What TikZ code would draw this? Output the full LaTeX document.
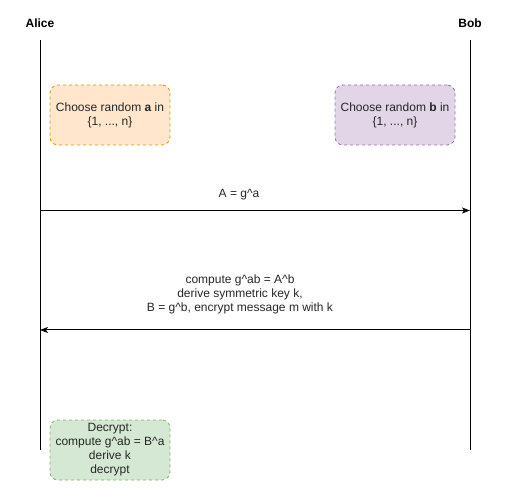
\documentclass[tikz,border=0pt]{standalone}
\usepackage{fontspec}
\setmainfont{Liberation Sans}
\usetikzlibrary{arrows.meta}
\definecolor{orfill}{HTML}{FFE6CC}\definecolor{ordraw}{HTML}{D79B00}
\definecolor{pufill}{HTML}{E1D5E7}\definecolor{pudraw}{HTML}{9673A6}
\definecolor{grfill}{HTML}{D5E8D4}\definecolor{grdraw}{HTML}{82B366}
\tikzset{
  actor/.style={font=\fontsize{9pt}{10.5pt}\selectfont\bfseries},
  notebox/.style={draw, dash pattern=on 2.25pt off 2.25pt, rounded corners=6pt,
    minimum width=90pt, minimum height=45pt, align=center, inner sep=0pt,
    font=\fontsize{9pt}{10.5pt}\selectfont, text=black!85, line width=0.6pt},
  msg/.style={draw, line width=0.75pt, -{Stealth[length=6pt,width=4.5pt,inset=1.5pt]}},
  life/.style={draw, line width=0.75pt},
  lbl/.style={font=\fontsize{9pt}{10.5pt}\selectfont, align=center, text=black!85}
}
\begin{document}
\begin{tikzpicture}[x=0.75pt,y=-0.75pt]
\useasboundingbox (0,0) rectangle (510,491);
\node[actor] (alice) at (40,23) {Alice};
\node[actor] (bob) at (470,23) {Bob};
\coordinate (a0) at (40,40); \coordinate (a1) at (40,450);
\coordinate (b0) at (470,40); \coordinate (b1) at (470,450);
\draw[life] (a0) -- (a1);
\draw[life] (b0) -- (b1);
\node[notebox, fill=orfill, draw=ordraw] (ca) at (110,115) {Choose random \textbf{a} in\\\{1, ..., n\}};
\node[notebox, fill=pufill, draw=pudraw] (cb) at (395,115) {Choose random \textbf{b} in\\\{1, ..., n\}};
\coordinate (m1s) at (40,210.5); \coordinate (m1e) at (470,210.5);
\draw[msg] (m1s) -- (m1e);
\node[lbl] (l1) at (239,195) {A = g\^{}a};
\coordinate (m2s) at (470,330); \coordinate (m2e) at (40,330);
\draw[msg] (m2s) -- (m2e);
\node[lbl] (l2) at (240,294) {compute g\^{}ab = A\^{}b\\derive symmetric key k,\\B = g\^{}b, encrypt message m with k};
\node[notebox, fill=grfill, draw=grdraw] (dec) at (110,450) {Decrypt:\\compute g\^{}ab = B\^{}a\\derive k\\decrypt};
\end{tikzpicture}
\end{document}
